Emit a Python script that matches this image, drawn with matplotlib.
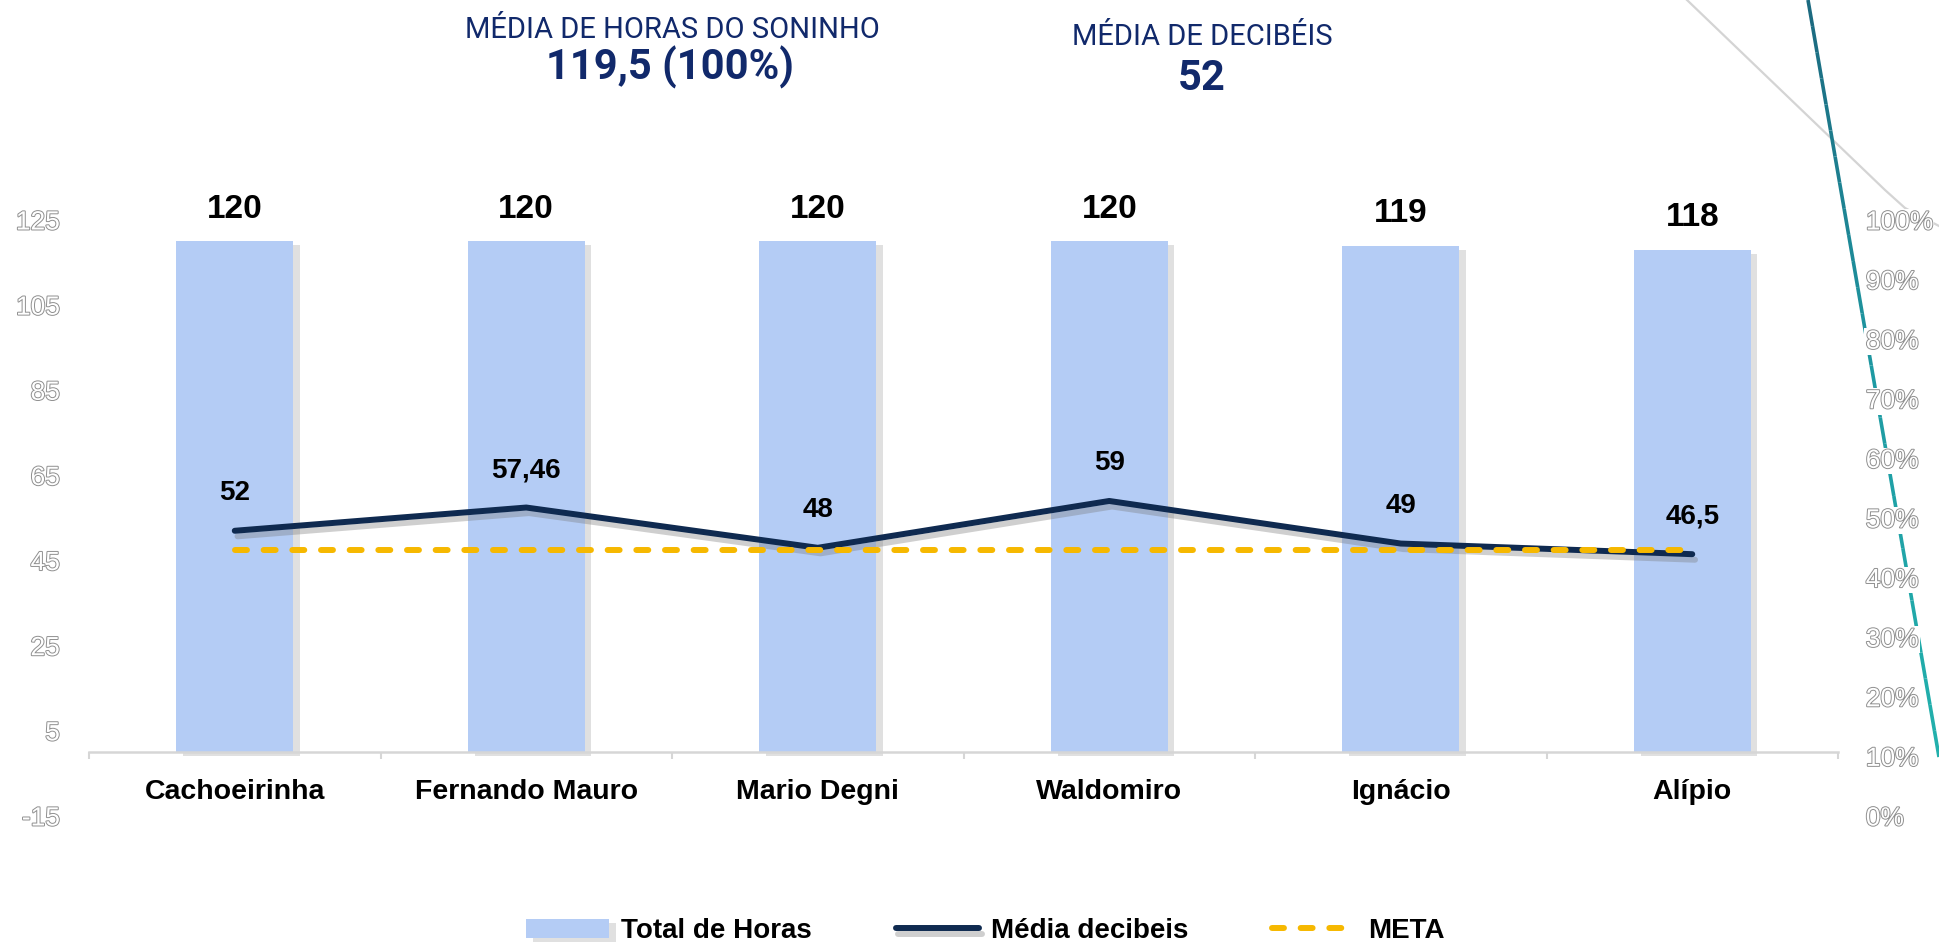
import numpy as np
import matplotlib.pyplot as plt
import matplotlib.patheffects as pe
from matplotlib.lines import Line2D
from matplotlib.patches import Circle
from matplotlib.collections import LineCollection
from matplotlib.colors import LinearSegmentedColormap

plt.rcParams['font.family'] = ['Liberation Sans', 'DejaVu Sans']
plt.rcParams['axes.unicode_minus'] = False

# Dados
nomes = ['Cachoeirinha', 'Fernando Mauro', 'Mario Degni', 'Waldomiro', 'Ignácio', 'Alípio']
total_horas = [120, 120, 120, 120, 119, 118]
media_db = [52, 57.46, 48, 59, 49, 46.5]
rotulos_db = ['52', '57,46', '48', '59', '49', '46,5']
meta = [47.5, 47.5, 47.5, 47.5, 47.5, 47.5]
ticks_esq = [-15, 5, 25, 45, 65, 85, 105, 125]
ticks_dir = [0, 10, 20, 30, 40, 50, 60, 70, 80, 90, 100]

W, H = 1939, 949
cor_barra = '#b4ccf5'
cor_linha = '#0f2a50'
cor_meta = '#f6b800'
cor_titulo = '#11296b'

fig = plt.figure(figsize=(W / 100, H / 100), dpi=100)

# Enfeites do fundo (linhas à direita)
fig.add_artist(Line2D(np.array([1687, 1885, 1905, 1939]) / W,
                      1 - np.array([0, 190, 208, 226]) / H,
                      color='#d4d4d4', lw=1.6, zorder=-2))
t = np.linspace(0, 1, 30)
px = (1808 + t * (1939 - 1808)) / W
py = 1 - (t * 757) / H
pts = np.column_stack([px, py]).reshape(-1, 1, 2)
segs = np.concatenate([pts[:-1], pts[1:]], axis=1)
cmap_teal = LinearSegmentedColormap.from_list('teal', ['#1c6a80', '#1e9aa3', '#22b0ac'])
lc = LineCollection(segs, cmap=cmap_teal, linewidths=2.6, transform=fig.transFigure, zorder=-1)
lc.set_array(t[:-1])
fig.add_artist(lc)
fig.add_artist(Circle((1858 / W, 1 - 985 / H), 50 / W, transform=fig.transFigure,
                      fill=False, edgecolor='#1d2a5e', lw=2.5))

ax = fig.add_axes([89 / W, (H - 816) / H, (1838 - 89) / W, (816 - 220) / H])
ax.set_facecolor('none')
x = np.arange(len(nomes))

barras = ax.bar(x, total_horas, width=0.4, color=cor_barra, label='Total de Horas', zorder=2)
for b in barras:
    b.set_path_effects([pe.SimplePatchShadow(offset=(5, -3), shadow_rgbFace='#999999', alpha=0.3),
                        pe.Normal()])

ln, = ax.plot(x, media_db, color=cor_linha, lw=4.3, solid_capstyle='round',
              label='Média decibeis', zorder=3)
ln.set_path_effects([pe.SimpleLineShadow(offset=(2, -4), shadow_color='#777777', alpha=0.35),
                     pe.Normal()])
lm, = ax.plot(x, meta, color=cor_meta, lw=4.3, linestyle=(0, (2.0, 2.8)),
              dash_capstyle='round', label='META', zorder=4)

for xi, v in zip(x, total_horas):
    ax.annotate(str(v), (xi, v), xytext=(0, 23), textcoords='offset points',
                ha='center', va='center', fontsize=24, fontweight='bold', color='black')
for xi, v, tx in zip(x, media_db, rotulos_db):
    ax.annotate(tx, (xi, v), xytext=(0, 27), textcoords='offset points',
                ha='center', va='center', fontsize=20, fontweight='bold', color='black')

ax.set_xlim(-0.5, len(nomes) - 0.5)
ax.set_ylim(-15, 125)
ax.set_yticks(ticks_esq)
ax.set_xticks(x)
ax.set_xticklabels(nomes)
ax.set_xticks(np.arange(len(nomes) + 1) - 0.5, minor=True)
ax.tick_params(axis='x', which='major', length=0, pad=19, labelsize=20.5)
ax.tick_params(axis='x', which='minor', length=5, width=1.5, color='#d6d6d6', direction='out')
ax.tick_params(axis='y', length=0, pad=21, labelsize=19, labelcolor='white')
for s in ['top', 'right', 'left']:
    ax.spines[s].set_visible(False)
ax.spines['bottom'].set_position(('data', 0))
ax.spines['bottom'].set_color('#d6d6d6')
ax.spines['bottom'].set_linewidth(1.8)

contorno = [pe.withStroke(linewidth=1.4, foreground='#8f8f8f')]

ax2 = ax.twinx()
ax2.set_ylim(0, 100)
ax2.set_yticks(ticks_dir)
ax2.set_yticklabels([f'{v}%' for v in ticks_dir])
ax2.tick_params(axis='y', length=0, pad=20, labelsize=19, labelcolor='white')
for s in ax2.spines.values():
    s.set_visible(False)

for lbl in ax.get_yticklabels():
    lbl.set_path_effects(contorno)
for lbl in ax2.get_yticklabels():
    lbl.set_path_effects(contorno)
    lbl.set_bbox(dict(facecolor='white', edgecolor='none', pad=1))
for lbl in ax.get_xticklabels():
    lbl.set_fontweight('bold')

# Títulos
fig.text(672 / W, 1 - 30 / H, 'MÉDIA DE HORAS DO SONINHO', family='Roboto', fontsize=21,
         color=cor_titulo, ha='center', va='center')
fig.text(670 / W, 1 - 67 / H, '119,5 (100%)', family='Roboto', fontsize=30, fontweight='bold',
         color=cor_titulo, ha='center', va='center')
fig.text(1202 / W, 1 - 37 / H, 'MÉDIA DE DECIBÉIS', family='Roboto', fontsize=21,
         color=cor_titulo, ha='center', va='center')
fig.text(1202 / W, 1 - 78 / H, '52', family='Roboto', fontsize=30, fontweight='bold',
         color=cor_titulo, ha='center', va='center')

fig.legend([barras, ln, lm], ['Total de Horas', 'Média decibeis', 'META'],
           loc='center', bbox_to_anchor=(985 / W, 1 - 931 / H), ncol=3, frameon=False,
           prop={'size': 20, 'weight': 'bold'}, handlelength=3.0, handletextpad=0.45,
           columnspacing=3.0)

fig.savefig('out.png', dpi=100)
